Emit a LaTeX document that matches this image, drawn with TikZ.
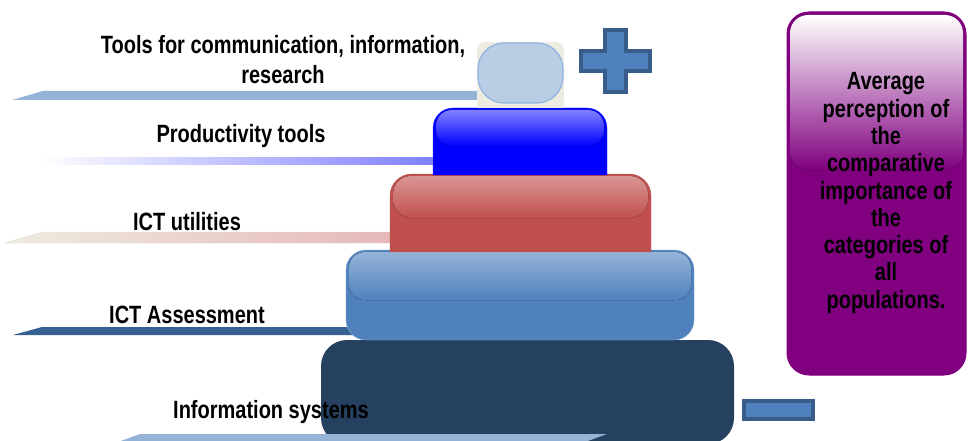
\documentclass[tikz,border=0pt]{standalone}
\usepackage{fontspec}
\setmainfont{Liberation Sans}
\newfontfamily\narrowfont[FakeStretch=0.8]{Liberation Sans}
\usetikzlibrary{positioning}
\definecolor{tilebeige}{HTML}{EEECE1}
\definecolor{tileblue}{HTML}{B9CDE5}
\definecolor{tileedge}{HTML}{8DB4E2}
\definecolor{prodblue}{HTML}{0000FF}
\definecolor{prodtop}{HTML}{8080FF}
\definecolor{utilred}{HTML}{C0504D}
\definecolor{utiltop}{HTML}{D99694}
\definecolor{utiledge}{HTML}{B64A47}
\definecolor{assessblue}{HTML}{4F81BD}
\definecolor{assesstop}{HTML}{95B3D7}
\definecolor{infonavy}{HTML}{26405F}
\definecolor{bandlight}{HTML}{95B3D7}
\definecolor{banddark}{HTML}{376092}
\definecolor{bandpink}{HTML}{E6B9B8}
\definecolor{bandtan}{HTML}{DDD9C3}
\definecolor{summary}{HTML}{800080}
\definecolor{signedge}{HTML}{385D8A}

\tikzset{
  levelname/.style={font=\narrowfont\bfseries\fontsize{25}{30}\selectfont, inner sep=0pt, align=center, anchor=base},
  sign/.style={fill=assessblue, draw=signedge, line width=4pt},
}

\begin{document}
\begin{tikzpicture}[x=1pt, y=-1pt]
  \useasboundingbox (0,0) rectangle (968,441);

  % Perspective strips behind the stack
  \fill[bandlight] (12,100) -- (43,91) -- (478,91) -- (478,100) -- cycle;
  \fill[left color=white, right color=prodtop] (40,157) -- (433,157) -- (433,164) -- (40,164) -- cycle;
  \draw[bandtan, left color=tilebeige, right color=bandpink] (5,243) -- (43,232) -- (390,232) -- (390,243) -- cycle;
  \fill[banddark] (13,335) -- (42,327) -- (360,327) -- (360,335) -- cycle;

  % Bottom level: information systems
  \fill[infonavy, rounded corners=26pt] (321,340) rectangle (734,444);

  % Level: ICT assessment
  \draw[assesstop!80!assessblue, fill=assessblue, rounded corners=20pt] (346,250) rectangle (694,340);
  \fill[top color=assesstop, bottom color=assessblue, rounded corners=16pt] (349,252) rectangle (691,300);

  % Level: ICT utilities
  \draw[utiledge, fill=utilred] (390,252) [rounded corners=22pt] -- (390,174) -- (651,174) [sharp corners] -- (651,252);
  \fill[top color=utiltop, bottom color=utilred, rounded corners=18pt] (393,176) rectangle (648,218);

  % Level: productivity tools
  \draw[prodblue!80!white, fill=prodblue] (433,175) [rounded corners=20pt] -- (433,108) -- (607,108) [sharp corners] -- (607,175);
  \fill[top color=prodtop, bottom color=prodblue, rounded corners=16pt] (436,110) rectangle (604,146);

  % Top level: communication tools
  \fill[tilebeige] (477,108) [rounded corners=8pt] -- (477,42) -- (564,42) [sharp corners] -- (564,108) -- cycle;
  \draw[tileedge, fill=tileblue, line width=1.2pt, rounded corners=26pt] (478,43) rectangle (563,103);

  % Strip in front of the bottom level
  \fill[bandlight] (118,442) -- (140,434) -- (607,434) -- (585,442) -- cycle;

  % Plus and minus signs
  \draw[sign] (605,30) -- (626,30) -- (626,51) -- (650,51) -- (650,71) -- (626,71) -- (626,92)
    -- (605,92) -- (605,71) -- (581,71) -- (581,51) -- (605,51) -- cycle;
  \draw[sign] (744,401) rectangle (813,419);

  % Summary panel
  \draw[summary, fill=summary, line width=1pt, rounded corners=22pt] (787,12) rectangle (966,375);
  \fill[top color=white, bottom color=summary, rounded corners=18pt] (790,15) rectangle (963,170);

  % Level names
  \node[levelname, anchor=center] (tools) at (283,60) {Tools for communication, information,\\research};
  \node[levelname] (productivity) at (241,142) {Productivity tools};
  \node[levelname] (utilities) at (187,230) {ICT utilities};
  \node[levelname] (assessment) at (187,323) {ICT Assessment};
  \node[levelname] (infosys) at (271,418) {Information systems};
  \node[levelname, anchor=center, font=\narrowfont\bfseries\fontsize{25}{27.3}\selectfont] (perception) at (886,193)
    {Average\\perception of\\the\\comparative\\importance of\\the\\categories of\\all\\populations.};
\end{tikzpicture}
\end{document}
